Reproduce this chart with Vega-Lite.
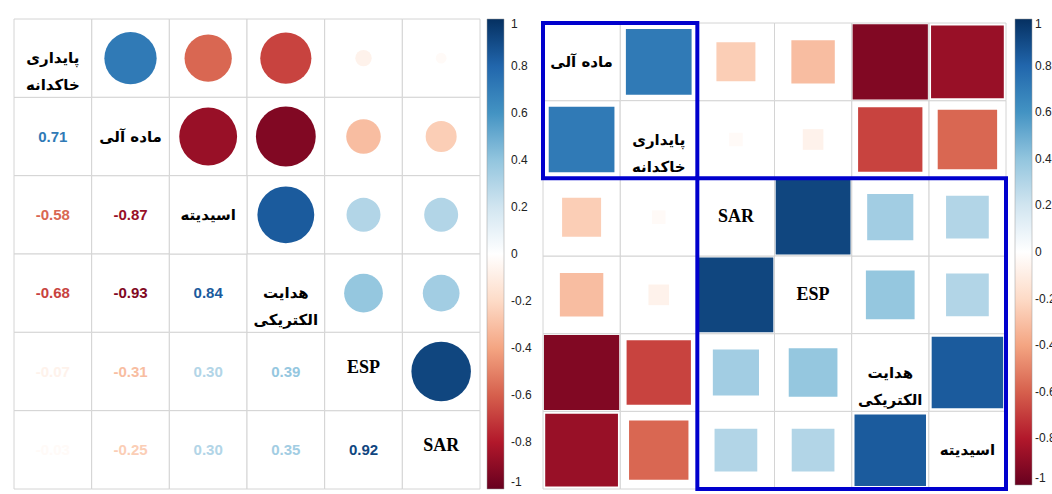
{
  "$schema": "https://vega.github.io/schema/vega-lite/v6.json",
  "padding": {"left": 13, "top": 18, "right": 0, "bottom": 0},
  "background": "white",
  "config": {
    "view": {"stroke": null},
    "locale": {"number": {"decimal": ".", "thousands": ",", "grouping": [3], "currency": ["$", ""], "minus": "-"}}
  },
  "datasets": {
    "vars": [
      {"code": "P", "label": "پایداری\nخاکدانه"},
      {"code": "O", "label": "ماده آلی"},
      {"code": "A", "label": "اسیدیته"},
      {"code": "EC", "label": "هدایت\nالکتریکی"},
      {"code": "ESP", "label": "ESP"},
      {"code": "SAR", "label": "SAR"}
    ],
    "corr": [
      {"row": "P", "col": "O", "r": 0.71},
      {"row": "P", "col": "A", "r": -0.58},
      {"row": "P", "col": "EC", "r": -0.68},
      {"row": "P", "col": "ESP", "r": -0.07},
      {"row": "P", "col": "SAR", "r": -0.03},
      {"row": "O", "col": "P", "r": 0.71},
      {"row": "O", "col": "A", "r": -0.87},
      {"row": "O", "col": "EC", "r": -0.93},
      {"row": "O", "col": "ESP", "r": -0.31},
      {"row": "O", "col": "SAR", "r": -0.25},
      {"row": "A", "col": "P", "r": -0.58},
      {"row": "A", "col": "O", "r": -0.87},
      {"row": "A", "col": "EC", "r": 0.84},
      {"row": "A", "col": "ESP", "r": 0.30},
      {"row": "A", "col": "SAR", "r": 0.30},
      {"row": "EC", "col": "P", "r": -0.68},
      {"row": "EC", "col": "O", "r": -0.93},
      {"row": "EC", "col": "A", "r": 0.84},
      {"row": "EC", "col": "ESP", "r": 0.39},
      {"row": "EC", "col": "SAR", "r": 0.35},
      {"row": "ESP", "col": "P", "r": -0.07},
      {"row": "ESP", "col": "O", "r": -0.31},
      {"row": "ESP", "col": "A", "r": 0.30},
      {"row": "ESP", "col": "EC", "r": 0.39},
      {"row": "ESP", "col": "SAR", "r": 0.92},
      {"row": "SAR", "col": "P", "r": -0.03},
      {"row": "SAR", "col": "O", "r": -0.25},
      {"row": "SAR", "col": "A", "r": 0.30},
      {"row": "SAR", "col": "EC", "r": 0.35},
      {"row": "SAR", "col": "ESP", "r": 0.92}
    ],
    "clusters": [
      {"from": "O", "to": "P"},
      {"from": "SAR", "to": "A"}
    ]
  },
  "spacing": 9,
  "resolve": {"scale": {"x": "independent", "y": "independent", "color": "independent", "size": "independent"}},
  "hconcat": [
    {
      "width": 466,
      "height": 470,
      "layer": [
        {
          "data": {"name": "corr"},
          "mark": {"type": "rect", "fill": "white", "stroke": "#d4d4d4", "strokeWidth": 1},
          "encoding": {
            "x": {"field": "col", "type": "nominal", "scale": {"type": "band", "domain": ["P", "O", "A", "EC", "ESP", "SAR"], "paddingInner": 0, "paddingOuter": 0}, "axis": null},
            "y": {"field": "row", "type": "nominal", "scale": {"type": "band", "domain": ["P", "O", "A", "EC", "ESP", "SAR"], "paddingInner": 0, "paddingOuter": 0}, "axis": null}
          }
        },
        {
          "data": {"name": "vars"},
          "mark": {"type": "rect", "fill": "white", "stroke": "#d4d4d4", "strokeWidth": 1},
          "encoding": {
            "x": {"field": "code", "type": "nominal", "axis": null},
            "y": {"field": "code", "type": "nominal", "axis": null}
          }
        },
        {
          "data": {"name": "corr"},
          "transform": [{"filter": "indexof(['P','O','A','EC','ESP','SAR'], datum.col) > indexof(['P','O','A','EC','ESP','SAR'], datum.row)"}],
          "mark": {"type": "point", "shape": "circle", "filled": true, "opacity": 1},
          "encoding": {
            "x": {"field": "col", "type": "nominal", "axis": null},
            "y": {"field": "row", "type": "nominal", "axis": null},
            "color": {
              "field": "r", "type": "quantitative",
              "scale": {
                "type": "linear", "interpolate": "rgb",
                "domain": [-1, -0.8, -0.6, -0.4, -0.2, 0, 0.2, 0.4, 0.6, 0.8, 1],
                "range": ["#67001F", "#B2182B", "#D6604D", "#F4A582", "#FDDBC7", "#FFFFFF", "#D1E5F0", "#92C5DE", "#4393C3", "#2166AC", "#053061"]
              },
              "legend": {
                "title": null, "orient": "right", "direction": "vertical", "offset": 7, "padding": 0,
                "gradientLength": 470, "gradientThickness": 17,
                "gradientStrokeColor": "#999", "gradientStrokeWidth": 0.5,
                "values": [-1, -0.8, -0.6, -0.4, -0.2, 0, 0.2, 0.4, 0.6, 0.8, 1],
                "labelExpr": "'' + datum.value",
                "labelFont": "Liberation Sans", "labelFontSize": 12, "labelColor": "#222",
                "labelOffset": 7, "labelBaseline": "middle", "labelOverlap": false
              }
            },
            "size": {"field": "r", "type": "quantitative", "scale": {"type": "linear", "domain": [-1, 0, 1], "range": [3850, 0, 3850]}, "legend": null}
          }
        },
        {
          "data": {"name": "corr"},
          "transform": [{"filter": "indexof(['P','O','A','EC','ESP','SAR'], datum.col) < indexof(['P','O','A','EC','ESP','SAR'], datum.row)"}],
          "mark": {"type": "text", "font": "Liberation Sans", "fontWeight": "bold", "fontSize": 15, "baseline": "middle"},
          "encoding": {
            "x": {"field": "col", "type": "nominal", "axis": null},
            "y": {"field": "row", "type": "nominal", "axis": null},
            "text": {"field": "r", "type": "quantitative", "format": ".2f"},
            "color": {"field": "r", "type": "quantitative"}
          }
        },
        {
          "data": {"name": "vars"},
          "transform": [{"filter": "datum.code != 'ESP' && datum.code != 'SAR'"}],
          "mark": {"type": "text", "lineBreak": "\n", "font": "DejaVu Sans", "fontWeight": "bold", "fontSize": 15, "lineHeight": 27, "color": "black", "baseline": "middle"},
          "encoding": {
            "x": {"field": "code", "type": "nominal", "axis": null},
            "y": {"field": "code", "type": "nominal", "axis": null},
            "text": {"field": "label"}
          }
        },
        {
          "data": {"name": "vars"},
          "transform": [{"filter": "datum.code == 'ESP' || datum.code == 'SAR'"}],
          "mark": {"type": "text", "font": "Liberation Serif", "fontWeight": "bold", "fontSize": 18, "color": "black", "baseline": "middle", "dy": -4},
          "encoding": {
            "x": {"field": "code", "type": "nominal", "axis": null},
            "y": {"field": "code", "type": "nominal", "axis": null},
            "text": {"field": "label"}
          }
        }
      ]
    },
    {
      "width": 463,
      "height": 470,
      "layer": [
        {
          "data": {"name": "corr"},
          "mark": {"type": "rect", "fill": "white", "stroke": "#d4d4d4", "strokeWidth": 1},
          "encoding": {
            "x": {"field": "col", "type": "nominal", "scale": {"type": "band", "domain": ["O", "P", "SAR", "ESP", "EC", "A"], "paddingInner": 0, "paddingOuter": 0}, "axis": null},
            "y": {"field": "row", "type": "nominal", "scale": {"type": "band", "domain": ["O", "P", "SAR", "ESP", "EC", "A"], "paddingInner": 0, "paddingOuter": 0.0258, "align": 1}, "axis": null}
          }
        },
        {
          "data": {"name": "vars"},
          "mark": {"type": "rect", "fill": "white", "stroke": "#d4d4d4", "strokeWidth": 1},
          "encoding": {
            "x": {"field": "code", "type": "nominal", "axis": null},
            "y": {"field": "code", "type": "nominal", "axis": null}
          }
        },
        {
          "data": {"name": "corr"},
          "mark": {"type": "point", "shape": "square", "filled": true, "opacity": 1},
          "encoding": {
            "x": {"field": "col", "type": "nominal", "axis": null},
            "y": {"field": "row", "type": "nominal", "axis": null},
            "color": {
              "field": "r", "type": "quantitative",
              "scale": {
                "type": "linear", "interpolate": "rgb",
                "domain": [-1, -0.8, -0.6, -0.4, -0.2, 0, 0.2, 0.4, 0.6, 0.8, 1],
                "range": ["#67001F", "#B2182B", "#D6604D", "#F4A582", "#FDDBC7", "#FFFFFF", "#D1E5F0", "#92C5DE", "#4393C3", "#2166AC", "#053061"]
              },
              "legend": {
                "title": null, "orient": "right", "direction": "vertical", "offset": 9, "padding": 0,
                "gradientLength": 466, "gradientThickness": 17,
                "gradientStrokeColor": "#999", "gradientStrokeWidth": 0.5,
                "values": [-1, -0.8, -0.6, -0.4, -0.2, 0, 0.2, 0.4, 0.6, 0.8, 1],
                "labelExpr": "'' + datum.value",
                "labelFont": "Liberation Sans", "labelFontSize": 12, "labelColor": "#222",
                "labelOffset": 3, "labelBaseline": "middle", "labelOverlap": false
              }
            },
            "size": {"field": "r", "type": "quantitative", "scale": {"type": "linear", "domain": [-1, 0, 1], "range": [6084, 0, 6084]}, "legend": null}
          }
        },
        {
          "data": {"name": "vars"},
          "transform": [{"filter": "datum.code != 'ESP' && datum.code != 'SAR'"}],
          "mark": {"type": "text", "lineBreak": "\n", "font": "DejaVu Sans", "fontWeight": "bold", "fontSize": 15, "lineHeight": 27, "color": "black", "baseline": "middle"},
          "encoding": {
            "x": {"field": "code", "type": "nominal", "axis": null},
            "y": {"field": "code", "type": "nominal", "axis": null},
            "text": {"field": "label"}
          }
        },
        {
          "data": {"name": "vars"},
          "transform": [{"filter": "datum.code == 'ESP' || datum.code == 'SAR'"}],
          "mark": {"type": "text", "font": "Liberation Serif", "fontWeight": "bold", "fontSize": 18, "color": "black", "baseline": "middle"},
          "encoding": {
            "x": {"field": "code", "type": "nominal", "axis": null},
            "y": {"field": "code", "type": "nominal", "axis": null},
            "text": {"field": "label"}
          }
        },
        {
          "data": {"name": "clusters"},
          "mark": {"type": "rect", "fill": "transparent", "stroke": "#0000cd", "strokeWidth": 4},
          "encoding": {
            "x": {"field": "from", "type": "nominal", "bandPosition": 0, "axis": null},
            "x2": {"field": "to", "bandPosition": 1},
            "y": {"field": "from", "type": "nominal", "bandPosition": 0, "axis": null},
            "y2": {"field": "to", "bandPosition": 1}
          }
        }
      ]
    }
  ]
}
